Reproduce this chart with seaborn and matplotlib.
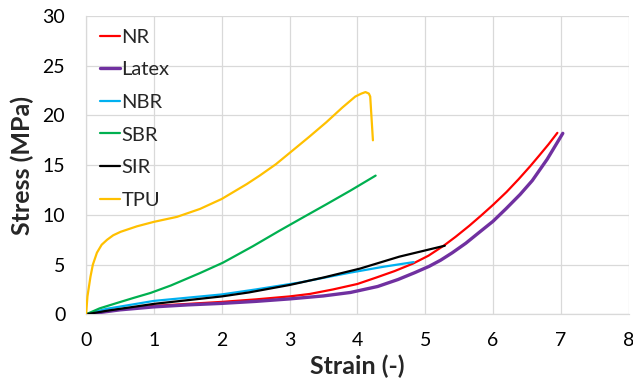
import matplotlib
matplotlib.use("Agg")
import matplotlib.pyplot as plt
import pandas as pd
import seaborn as sns

# Stress-strain curves (strain in -, stress in MPa)
nr_strain = [0.0, 0.25, 0.5, 1.0, 1.5, 2.0, 2.5, 3.0, 3.3, 3.64, 4.0, 4.28, 4.55, 4.82, 5.05, 5.28, 5.45, 5.65, 5.82, 6.0, 6.2, 6.38, 6.55, 6.68, 6.82, 6.95]
nr_stress = [0.0, 0.3, 0.5, 0.85, 1.05, 1.25, 1.5, 1.8, 2.05, 2.5, 3.05, 3.7, 4.35, 5.1, 5.9, 6.93, 7.8, 8.9, 9.9, 11.0, 12.3, 13.6, 14.9, 15.95, 17.1, 18.25]

latex_strain = [0.0, 0.5, 1.0, 1.5, 2.0, 2.5, 3.0, 3.5, 3.9, 4.3, 4.6, 4.85, 5.06, 5.23, 5.4, 5.6, 5.79, 6.0, 6.19, 6.4, 6.58, 6.8, 7.03]
latex_stress = [0.0, 0.45, 0.75, 0.95, 1.1, 1.3, 1.55, 1.85, 2.2, 2.8, 3.5, 4.2, 4.83, 5.45, 6.19, 7.15, 8.2, 9.35, 10.6, 12.05, 13.45, 15.6, 18.2]

nbr_strain = [0.0, 0.3, 1.0, 2.0, 2.5, 3.15, 3.9, 4.4, 4.83]
nbr_stress = [0.0, 0.55, 1.35, 2.0, 2.5, 3.2, 4.2, 4.8, 5.25]

sbr_strain = [0.0, 0.2, 0.46, 0.7, 0.95, 1.25, 1.68, 2.02, 2.46, 2.85, 3.2, 3.54, 3.9, 4.27]
sbr_stress = [0.0, 0.6, 1.15, 1.65, 2.15, 2.9, 4.15, 5.2, 6.85, 8.4, 9.75, 11.05, 12.45, 13.95]

sir_strain = [0.0, 0.3, 1.0, 2.0, 2.4, 3.0, 3.5, 4.04, 4.62, 5.29]
sir_stress = [0.0, 0.35, 1.05, 1.8, 2.2, 2.95, 3.7, 4.6, 5.8, 6.9]

tpu_strain = [0.0, 0.02, 0.065, 0.1, 0.16, 0.23, 0.31, 0.4, 0.51, 0.75, 1.0, 1.34, 1.68, 2.0, 2.37, 2.56, 2.8, 3.05, 3.29, 3.54, 3.78, 3.97, 4.06, 4.12, 4.17, 4.19, 4.23]
tpu_stress = [0.0, 1.8, 3.8, 5.0, 6.2, 7.0, 7.5, 7.95, 8.3, 8.85, 9.3, 9.8, 10.6, 11.6, 13.1, 13.95, 15.1, 16.5, 17.85, 19.3, 20.8, 21.9, 22.2, 22.35, 22.2, 21.9, 17.5]

materials = ["NR", "Latex", "NBR", "SBR", "SIR", "TPU"]
colors = ["#FF0000", "#7030A0", "#00B0F0", "#00B050", "#000000", "#FFC000"]
series = [(nr_strain, nr_stress), (latex_strain, latex_stress), (nbr_strain, nbr_stress),
          (sbr_strain, sbr_stress), (sir_strain, sir_stress), (tpu_strain, tpu_stress)]

frames = []
for name, (xs, ys) in zip(materials, series):
    frames.append(pd.DataFrame({"Strain": xs, "Stress": ys, "Material": name}))
df = pd.concat(frames, ignore_index=True)

sns.set_style("white")
plt.rcParams["font.family"] = ["Lato", "DejaVu Sans"]

fig = plt.figure(figsize=(6.33, 3.81), dpi=100)
ax = fig.add_axes([0.136, 0.175, 0.857, 0.783])

sns.lineplot(data=df, x="Strain", y="Stress", hue="Material", hue_order=materials,
             palette=dict(zip(materials, colors)), sort=False, estimator=None,
             linewidth=1.6, ax=ax, legend=False, zorder=3)
for ln in ax.lines:
    ln.set_solid_joinstyle("round")
    ln.set_solid_capstyle("round")
# latex trace is drawn a bit heavier
ax.lines[1].set_linewidth(2.4)

ax.set_xlim(0, 8)
ax.set_ylim(0, 30)
ax.set_xticks(range(0, 9))
ax.set_yticks(range(0, 31, 5))
ax.grid(True, color="#D9D9D9", linewidth=0.9)
ax.set_axisbelow(True)
for side in ["top", "right"]:
    ax.spines[side].set_visible(False)
for side in ["left", "bottom"]:
    ax.spines[side].set_color("#D9D9D9")
    ax.spines[side].set_linewidth(0.9)
ax.tick_params(axis="both", length=0, labelsize=14, colors="#000000")
ax.tick_params(axis="x", pad=13)
ax.tick_params(axis="y", pad=15)

ax.set_xlabel("Strain (-)", fontsize=18, fontweight="bold", labelpad=4)
ax.set_ylabel("Stress (MPa)", fontsize=18, fontweight="bold", labelpad=6)

handles = ax.lines[:6]
ax.legend(handles, materials, loc="upper left", bbox_to_anchor=(0.0, 1.005),
          frameon=False, fontsize=14.5, handlelength=1.0, handletextpad=0.05,
          labelspacing=0.77, borderaxespad=0.3)

fig.savefig("out.png", dpi=100)
